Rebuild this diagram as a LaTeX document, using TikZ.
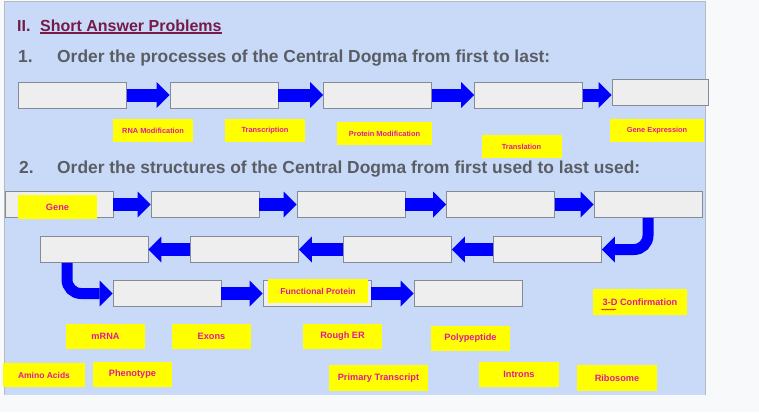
\documentclass[tikz,border=0pt]{standalone}
\usepackage{fontspec}
\setmainfont{Liberation Sans}
\usetikzlibrary{arrows.meta, positioning, decorations.pathmorphing}

\definecolor{pagebg}{HTML}{F8F9FB}
\definecolor{panelblue}{HTML}{C9DAF8}
\definecolor{panelline}{HTML}{B4B9C2}
\definecolor{boxfill}{HTML}{EEEEEE}
\definecolor{boxline}{HTML}{858A94}
\definecolor{flowblue}{HTML}{0000FF}
\definecolor{tagyellow}{HTML}{FFFF00}
\definecolor{tagpink}{HTML}{E0199B}
\definecolor{headgray}{HTML}{595D64}
\definecolor{sectmaroon}{HTML}{741B47}

\tikzset{
  ansbox/.style={draw=boxline, fill=boxfill, line width=0.9bp, minimum width=108bp,
    minimum height=26bp, inner sep=0pt},
  tag/.style={fill=tagyellow, text=tagpink, inner sep=0pt, minimum width=79bp,
    minimum height=25bp, font=\bfseries\fontsize{9.2bp}{11bp}\selectfont},
  smalltag/.style={tag, minimum width=80bp, minimum height=23bp,
    font=\bfseries\fontsize{7.4bp}{9bp}\selectfont},
  flow/.style={draw=flowblue, line width=13bp,
    -{Triangle[length=13bp, width=26bp, line width=0pt]}},
  bendflow/.style={flow, line width=11bp, rounded corners=14bp},
  sect/.style={inner sep=0pt, text=sectmaroon, font=\bfseries\fontsize{16bp}{19bp}\selectfont},
  question/.style={inner sep=0pt, text=headgray, font=\bfseries\fontsize{17.4bp}{20bp}\selectfont}
}

\begin{document}
\begin{tikzpicture}[x=1bp, y=-1bp]
  % page and panel
  \fill[pagebg] (0,0) rectangle (759,412);
  \useasboundingbox (0,0) rectangle (759,412);
  \fill[panelblue] (4,1) rectangle (705,395);
  \draw[panelline, line width=1bp] (4,395) -- (4,1) -- (705,1) -- (705,395);

  % headings
  \node[sect, anchor=base west] (secnum) at (17,31) {II.};
  \node[sect, anchor=base west] (secname) at (40,31) {Short Answer Problems};
  \draw[sectmaroon, line width=1.2bp] ([yshift=-2bp]secname.base west) -- ([yshift=-2bp]secname.base east);
  \node[question, anchor=base west] (qnum1) at (18,62) {1.};
  \node[question, anchor=base west] (q1) at (57,62) {Order the processes of the Central Dogma from first to last:};
  \node[question, anchor=base west] (qnum2) at (19,173) {2.};
  \node[question, anchor=base west] (q2) at (57,173) {Order the structures of the Central Dogma from first used to last used:};

  % question 1: processes
  \node[ansbox] (p1) at (72.5,95) {};
  \node[ansbox] (p2) at (224,95) {};
  \node[ansbox] (p3) at (377.5,95) {};
  \node[ansbox] (p4) at (528.5,95) {};
  \node[ansbox, minimum width=96bp] (p5) at (660,92) {};
  \draw[flow] (p1) -- (p2);
  \draw[flow] (p2) -- (p3);
  \draw[flow] (p3) -- (p4);
  \draw[flow] (p4.east) -- (p4.east -| p5.west);

  \node[smalltag] (rnamod) at (153,130.5) {RNA Modification};
  \node[smalltag] (transcr) at (265,130.5) {Transcription};
  \node[smalltag, minimum width=95bp] (protmod) at (384.5,133.5) {Protein Modification};
  \node[smalltag] (transl) at (521.5,146.5) {Translation};
  \node[smalltag, minimum width=94bp] (geneexp) at (657,130.5) {Gene Expression};

  % question 2: structures
  \node[ansbox] (s1) at (59,204.5) {};
  \node[ansbox] (s2) at (205,204.5) {};
  \node[ansbox] (s3) at (351,204.5) {};
  \node[ansbox] (s4) at (500.5,204.5) {};
  \node[ansbox] (s5) at (648,204.5) {};
  \node[ansbox] (s6) at (547.5,249.5) {};
  \node[ansbox] (s7) at (397.5,249.5) {};
  \node[ansbox] (s8) at (244.5,249.5) {};
  \node[ansbox] (s9) at (94,249.5) {};
  \node[ansbox] (s10) at (167,293.5) {};
  \node[ansbox] (s11) at (317,293.5) {};
  \node[ansbox] (s12) at (468,293.5) {};

  \draw[flow] (s1) -- (s2);
  \draw[flow] (s2) -- (s3);
  \draw[flow] (s3) -- (s4);
  \draw[flow] (s4) -- (s5);
  \draw[bendflow] (s5.south) |- (s6.east);
  \draw[flow] (s6) -- (s7);
  \draw[flow] (s7) -- (s8);
  \draw[flow] (s8) -- (s9);
  \draw[bendflow] ([xshift=-27bp]s9.south) |- (s10.west);
  \draw[flow] (s10) -- (s11);
  \draw[flow] (s11) -- (s12);

  \node[tag, minimum height=24bp] (gene) at (57.5,207) {Gene};
  \node[tag, minimum width=100bp, minimum height=24bp, font=\bfseries\fontsize{8.6bp}{10bp}\selectfont] (funcprot) at (318,291) {Functional Protein};
  \node[tag] (mrna) at (105.5,336.5) {mRNA};
  \node[tag] (exons) at (211.5,336.5) {Exons};
  \node[tag] (roughER) at (342.5,336.5) {Rough ER};
  \node[tag] (polypep) at (470.5,338.5) {Polypeptide};
  \node[tag, minimum width=94bp, minimum height=26bp] (confirm) at (640,302) {3-D Confirmation};
  \draw[red!80!black, line width=0.5bp, decorate, decoration={snake, amplitude=0.6bp, segment length=2.5bp}]
    (601,309.5) -- (616,309.5);
  \node[tag, minimum width=82bp, minimum height=24bp, font=\bfseries\fontsize{8.5bp}{10bp}\selectfont] (amino) at (44,375) {Amino Acids};
  \node[tag] (phenotype) at (132.5,374.5) {Phenotype};
  \node[tag, minimum width=99bp, minimum height=26bp] (primary) at (378.5,378) {Primary Transcript};
  \node[tag, minimum width=80bp] (introns) at (519,374.5) {Introns};
  \node[tag, minimum width=80bp, minimum height=26bp] (ribosome) at (617,378) {Ribosome};
\end{tikzpicture}
\end{document}
